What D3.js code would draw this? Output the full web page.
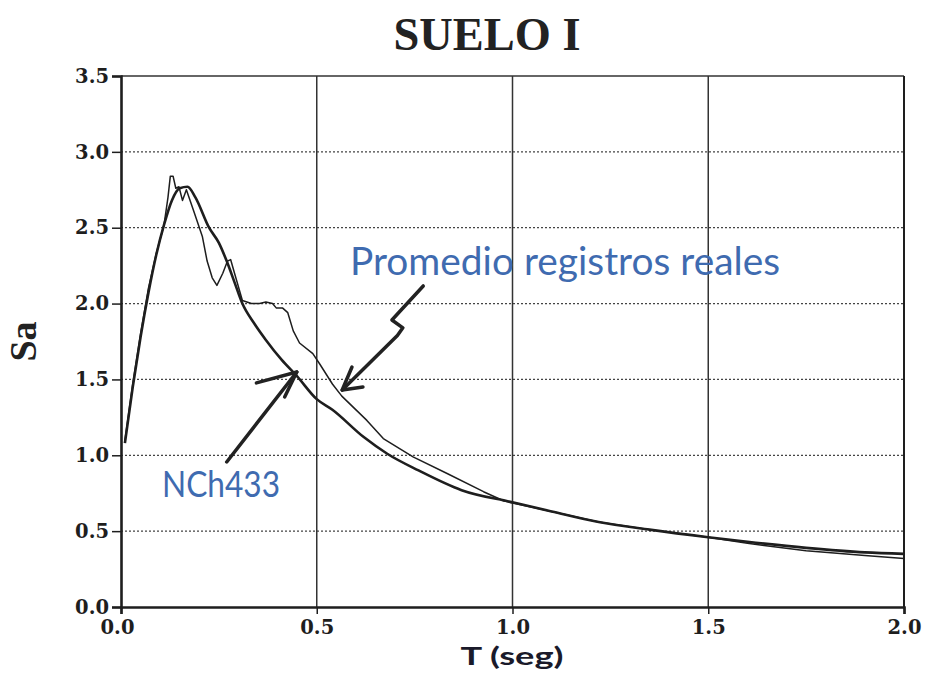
<!DOCTYPE html>
<html>
<head>
<meta charset="utf-8">
<script src="https://cdn.jsdelivr.net/npm/d3@7"></script>
<style>
  body { margin: 0; background: #fff; }
  svg { display: block; }
</style>
</head>
<body>
<div id="chart"></div>
<script>
// NCh433 design spectrum (thick smooth curve)
const nchT = [0.01, 0.03, 0.05, 0.07, 0.09, 0.11, 0.13, 0.15, 0.17, 0.19, 0.225, 0.25, 0.27, 0.29, 0.31, 0.34, 0.37, 0.41, 0.45, 0.5, 0.54, 0.62, 0.68, 0.76, 0.87, 1.0, 1.1, 1.22, 1.35, 1.5, 1.6, 1.75, 1.9, 2.0];
const nchSa = [1.08, 1.45, 1.78, 2.07, 2.32, 2.52, 2.68, 2.76, 2.77, 2.7, 2.5, 2.4, 2.28, 2.14, 2.0, 1.87, 1.76, 1.63, 1.52, 1.37, 1.3, 1.12, 1.01, 0.9, 0.77, 0.69, 0.63, 0.56, 0.51, 0.46, 0.43, 0.39, 0.36, 0.35];

// average of real records (thin jagged curve)
const promT = [0.01, 0.03, 0.05, 0.07, 0.09, 0.11, 0.12, 0.126, 0.133, 0.14, 0.148, 0.157, 0.167, 0.187, 0.208, 0.22, 0.233, 0.245, 0.26, 0.272, 0.28, 0.29, 0.31, 0.333, 0.354, 0.37, 0.387, 0.397, 0.413, 0.426, 0.44, 0.456, 0.49, 0.508, 0.54, 0.564, 0.628, 0.67, 0.746, 0.833, 0.926, 0.977, 1.0, 1.1, 1.22, 1.35, 1.5, 1.6, 1.75, 1.9, 2.0];
const promSa = [1.1, 1.47, 1.8, 2.1, 2.33, 2.52, 2.7, 2.84, 2.84, 2.76, 2.77, 2.68, 2.75, 2.6, 2.44, 2.28, 2.17, 2.12, 2.2, 2.28, 2.29, 2.2, 2.02, 2.0, 2.0, 2.01, 2.0, 1.97, 1.97, 1.94, 1.82, 1.74, 1.67, 1.6, 1.47, 1.39, 1.23, 1.11, 0.99, 0.88, 0.76, 0.7, 0.685, 0.63, 0.56, 0.51, 0.46, 0.42, 0.37, 0.34, 0.32];

const xTicks = [0, 0.5, 1.0, 1.5, 2.0];
const yTicks = [0, 0.5, 1.0, 1.5, 2.0, 2.5, 3.0, 3.5];

// hand drawn arrows, in (T, Sa) units
const promArrow = [[0.772, 2.116], [0.692, 1.892], [0.72, 1.84], [0.706, 1.79], [0.565, 1.43]];
const promHead = [[0.59, 1.582], [0.565, 1.43], [0.618, 1.45]];
const nchArrow = [[0.27, 0.956], [0.449, 1.549]];
const nchHead = [[0.346, 1.477], [0.449, 1.549], [0.418, 1.384]];

const width = 928, height = 677;
const margin = { top: 76, right: 24, bottom: 70, left: 121 };

const svg = d3.select("#chart").append("svg")
  .attr("width", width)
  .attr("height", height);

const x = d3.scaleLinear().domain([0, 2]).range([margin.left, width - margin.right]);
const y = d3.scaleLinear().domain([0, 3.5]).range([height - margin.bottom, margin.top]);

const ink = "#1e1e1e";

// dotted horizontal grid
svg.append("g")
  .selectAll("line")
  .data(yTicks.filter(d => d > 0 && d < 3.5))
  .join("line")
  .attr("x1", x(0)).attr("x2", x(2))
  .attr("y1", d => y(d)).attr("y2", d => y(d))
  .attr("stroke", "#444")
  .attr("stroke-width", 1.3)
  .attr("stroke-dasharray", "2,2");

// solid vertical grid
svg.append("g")
  .selectAll("line")
  .data(xTicks.filter(d => d > 0 && d < 2))
  .join("line")
  .attr("x1", d => x(d)).attr("x2", d => x(d))
  .attr("y1", y(0)).attr("y2", y(3.5))
  .attr("stroke", "#333")
  .attr("stroke-width", 1.5);

// frame: top + right
svg.append("line")
  .attr("x1", x(0)).attr("x2", x(2)).attr("y1", y(3.5)).attr("y2", y(3.5))
  .attr("stroke", "#333").attr("stroke-width", 1.6);
svg.append("line")
  .attr("x1", x(2)).attr("x2", x(2)).attr("y1", y(0)).attr("y2", y(3.5))
  .attr("stroke", ink).attr("stroke-width", 2);

// axes
const yAxis = d3.axisLeft(y).tickValues(yTicks).tickFormat(d3.format(".1f")).tickSize(9).tickPadding(3);
const xAxis = d3.axisBottom(x).tickValues(xTicks).tickFormat(d3.format(".1f")).tickSize(7).tickPadding(6);

const gy = svg.append("g")
  .attr("transform", `translate(${x(0)},0)`)
  .call(yAxis);
const gx = svg.append("g")
  .attr("transform", `translate(0,${y(0)})`)
  .call(xAxis);

[gy, gx].forEach(g => {
  g.select(".domain").attr("stroke", ink).attr("stroke-width", 2.6);
  g.selectAll(".tick line").attr("stroke", ink).attr("stroke-width", 1.5);
  g.selectAll(".tick text")
    .attr("fill", ink)
    .style("font-family", "'DejaVu Serif', serif")
    .style("font-weight", "bold")
    .style("font-size", "19.5px");
});
gx.select(".tick text").attr("dx", "-4");

// curves
const lineNch = d3.line()
  .x((d, i) => x(nchT[i]))
  .y(d => y(d))
  .curve(d3.curveMonotoneX);

const lineProm = d3.line()
  .x((d, i) => x(promT[i]))
  .y(d => y(d))
  .curve(d3.curveLinear);

svg.append("path")
  .datum(promSa)
  .attr("d", lineProm)
  .attr("fill", "none")
  .attr("stroke", ink)
  .attr("stroke-width", 1.5)
  .attr("stroke-linejoin", "round");

svg.append("path")
  .datum(nchSa)
  .attr("d", lineNch)
  .attr("fill", "none")
  .attr("stroke", ink)
  .attr("stroke-width", 2.6);

// arrows
const arrowLine = d3.line().x(d => x(d[0])).y(d => y(d[1]));
[promArrow, promHead, nchArrow, nchHead].forEach(pts => {
  svg.append("path")
    .attr("d", arrowLine(pts))
    .attr("fill", "none")
    .attr("stroke", "#222")
    .attr("stroke-width", 3.5)
    .attr("stroke-linecap", "round")
    .attr("stroke-linejoin", "round");
});

// texts
svg.append("text")
  .attr("x", 487).attr("y", 50)
  .attr("text-anchor", "middle")
  .attr("textLength", 187)
  .attr("lengthAdjust", "spacingAndGlyphs")
  .style("font-family", "'Liberation Serif', serif")
  .style("font-weight", "bold")
  .style("font-size", "46px")
  .attr("fill", "#222")
  .text("SUELO I");

svg.append("text")
  .attr("transform", `translate(36,${y(1.75)}) rotate(-90)`)
  .attr("text-anchor", "middle")
  .style("font-family", "'Liberation Serif', serif")
  .style("font-weight", "bold")
  .style("font-size", "38px")
  .attr("fill", "#222")
  .text("Sa");

svg.append("text")
  .attr("x", 512).attr("y", 665)
  .attr("text-anchor", "middle")
  .attr("textLength", 103)
  .attr("lengthAdjust", "spacingAndGlyphs")
  .style("font-family", "Lato, sans-serif")
  .style("font-weight", "bold")
  .style("font-size", "25px")
  .attr("fill", "#1a1a2a")
  .text("T (seg)");

svg.append("text")
  .attr("x", 350).attr("y", 275)
  .attr("textLength", 430)
  .attr("lengthAdjust", "spacingAndGlyphs")
  .style("font-family", "Lato, sans-serif")
  .style("font-size", "38px")
  .attr("fill", "#3f6bb0")
  .text("Promedio registros reales");

svg.append("text")
  .attr("x", 162).attr("y", 497)
  .attr("textLength", 118)
  .attr("lengthAdjust", "spacingAndGlyphs")
  .style("font-family", "Lato, sans-serif")
  .style("font-size", "36px")
  .attr("fill", "#3f6bb0")
  .text("NCh433");
</script>
</body>
</html>
